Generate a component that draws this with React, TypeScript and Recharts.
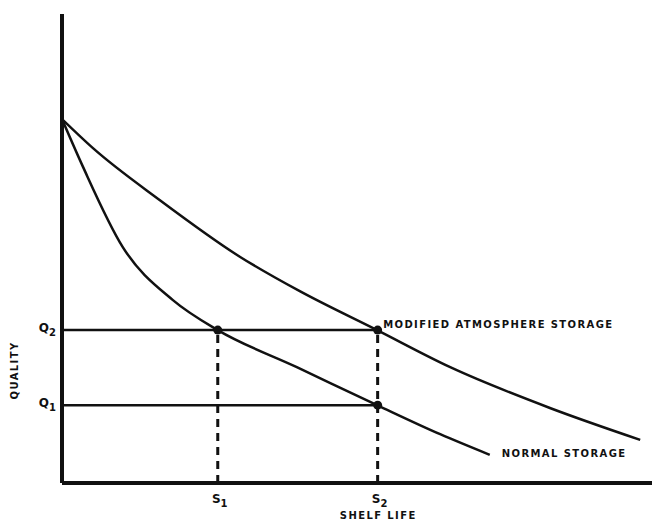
import { LineChart, Line, XAxis, YAxis, ReferenceLine, ReferenceDot } from 'recharts'

// ─── Data (shelf life / quality, arbitrary units 0–100) ───────────────────────

const MODIFIED_X = [0, 5.25, 16.6, 30.2, 40.3, 53.4, 65.8, 82.7, 98.0]
const MODIFIED_Q = [77.6, 71.4, 60.3, 48.2, 40.9, 32.6, 24.7, 16.0, 9.2]

const NORMAL_X = [0, 3.56, 10.3, 18.8, 26.4, 39.8, 53.4, 64.1, 72.5]
const NORMAL_Q = [77.6, 67.4, 50.3, 39.0, 32.6, 24.7, 16.6, 10.4, 6.0]

const S_TICKS = [26.4, 53.5]
const S_LABELS = ['S', 'S']
const Q_TICKS = [16.6, 32.6]
const Q_LABELS = ['Q', 'Q']

const [S1, S2] = S_TICKS
const [Q1, Q2] = Q_TICKS

const modifiedData = MODIFIED_X.map((x, i) => ({ x, q: MODIFIED_Q[i] }))
const normalData = NORMAL_X.map((x, i) => ({ x, q: NORMAL_Q[i] }))

const INK = '#111'
const FONT = '"DejaVu Sans", sans-serif'

function XTick({ x, y, payload }: any) {
  const i = S_TICKS.indexOf(payload.value)
  return (
    <text x={x + 2} y={y + 12} textAnchor="middle" fill={INK} fontFamily={FONT}
      fontWeight="bold" fontSize={12}>
      {S_LABELS[i]}<tspan dy={4} fontSize={10}>{i + 1}</tspan>
    </text>
  )
}

function YTick({ x, y, payload }: any) {
  const i = Q_TICKS.indexOf(payload.value)
  return (
    <text x={x + 2} y={y + 2} textAnchor="end" fill={INK} fontFamily={FONT}
      fontWeight="bold" fontSize={12}>
      {Q_LABELS[i]}<tspan dy={4} fontSize={10}>{i + 1}</tspan>
    </text>
  )
}

const labelStyle = { fill: INK, fontFamily: FONT, fontWeight: 'bold', fontSize: 10, letterSpacing: 1.4 }

export default function App() {
  return (
    <div style={{ position: 'absolute', left: 0, top: 0, background: '#fff' }}>
      <LineChart width={654} height={523} margin={{ top: 14, right: 2, bottom: 0, left: 0 }}>
        <XAxis type="number" dataKey="x" domain={[0, 100]} ticks={S_TICKS} tick={<XTick />}
          tickLine={false} axisLine={{ stroke: INK, strokeWidth: 4 }} height={40}
          allowDataOverflow
          label={{
            content: ({ viewBox }: any) => (
              <text x={viewBox.x + viewBox.width * 0.536} y={viewBox.y + 36} textAnchor="middle"
                {...labelStyle}>SHELF LIFE</text>
            ),
          }} />
        <YAxis type="number" domain={[0, 100]} ticks={Q_TICKS} tick={<YTick />}
          tickLine={false} axisLine={{ stroke: INK, strokeWidth: 4 }} width={62}
          allowDataOverflow
          label={{
            content: ({ viewBox }: any) => {
              const cx = viewBox.x + 18
              const cy = viewBox.y + viewBox.height * 0.76
              return (
                <text x={cx} y={cy} textAnchor="middle" transform={`rotate(-90, ${cx}, ${cy})`}
                  {...labelStyle}>QUALITY</text>
              )
            },
          }} />

        <ReferenceLine segment={[{ x: 0, y: Q2 }, { x: S2, y: Q2 }]} stroke={INK} strokeWidth={2.5} />
        <ReferenceLine segment={[{ x: 0, y: Q1 }, { x: S2, y: Q1 }]} stroke={INK} strokeWidth={2.5} />
        <ReferenceLine segment={[{ x: S1, y: 0 }, { x: S1, y: Q2 }]} stroke={INK} strokeWidth={3}
          strokeDasharray="8 6" />
        <ReferenceLine segment={[{ x: S2, y: 0 }, { x: S2, y: Q2 }]} stroke={INK} strokeWidth={3}
          strokeDasharray="8 6" />

        <Line data={modifiedData} dataKey="q" type="monotone" stroke={INK} strokeWidth={2.5}
          dot={false} isAnimationActive={false} />
        <Line data={normalData} dataKey="q" type="monotone" stroke={INK} strokeWidth={2.5}
          dot={false} isAnimationActive={false} />

        <ReferenceDot x={S1} y={Q2} r={4.5} fill={INK} stroke="none" />
        <ReferenceDot x={S2} y={Q1} r={4.5} fill={INK} stroke="none" />
        <ReferenceDot x={S2} y={Q2} r={4.5} fill={INK} stroke="none"
          label={{ value: 'MODIFIED ATMOSPHERE STORAGE', position: 'right', offset: 1, dy: -6, ...labelStyle }} />
        <ReferenceDot x={NORMAL_X[NORMAL_X.length - 1]} y={NORMAL_Q[NORMAL_Q.length - 1]} r={0}
          fill="none" stroke="none"
          label={{ value: 'NORMAL STORAGE', position: 'right', offset: 12, dy: -1, ...labelStyle }} />
      </LineChart>
    </div>
  )
}
